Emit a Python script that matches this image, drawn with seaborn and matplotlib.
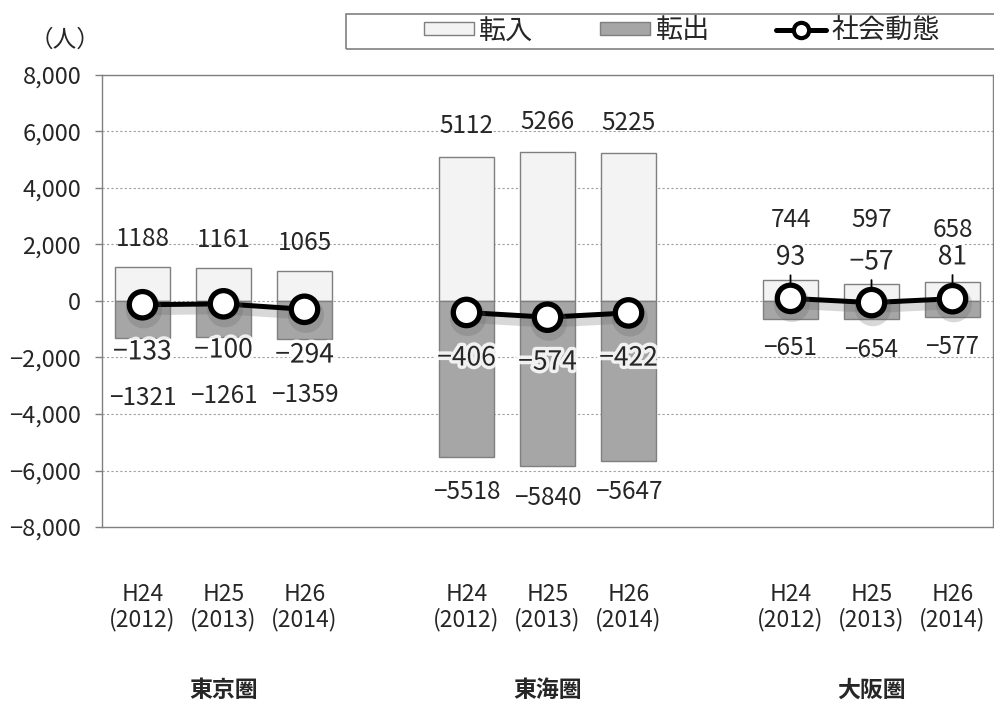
import numpy as np
import pandas as pd
import matplotlib.pyplot as plt
import matplotlib.patheffects as pe
from matplotlib.patches import Rectangle
from matplotlib.lines import Line2D
from matplotlib.ticker import FuncFormatter
import seaborn as sns

# data
regions = ["東京圏", "東海圏", "大阪圏"]
years = ["H24\n(2012)", "H25\n(2013)", "H26\n(2014)"]
inflow = [1188, 1161, 1065, 5112, 5266, 5225, 744, 597, 658]
outflow = [-1321, -1261, -1359, -5518, -5840, -5647, -651, -654, -577]
net = [-133, -100, -294, -406, -574, -422, 93, -57, 81]

# label offsets (data units) so the numbers sit where the original has them
in_off = [1000, 1000, 1000, 1080, 1080, 1080, 2120, 2270, 1855]
out_off = [-2110, -2100, -1970, -1240, -1130, -1110, -1010, -1080, -1050]
net_off = [-1670, -1635, -1620, -1610, -1590, -1600, 1460, 1440, 1480]

sns.set_style("white")
plt.rcParams["font.family"] = ["Noto Sans CJK JP", "DejaVu Sans"]

pos = [g * 4 + i for g in range(len(regions)) for i in range(len(years))]
df = pd.DataFrame({"pos": pos, "inflow": inflow, "outflow": outflow, "net": net,
                   "region": np.repeat(regions, len(years))})

fig = plt.figure(figsize=(9.95, 7.04), dpi=100)
ax = fig.add_axes([0.1025, 0.2514, 0.8955, 0.6421])

sns.barplot(data=df, x="pos", y="inflow", native_scale=True, width=0.68, color="#f3f3f3",
            edgecolor="#7f7f7f", linewidth=1, saturation=1, ax=ax, zorder=2)
sns.barplot(data=df, x="pos", y="outflow", native_scale=True, width=0.68, color="#a6a6a6",
            edgecolor="#7f7f7f", linewidth=1, saturation=1, ax=ax, zorder=2)

shadow = [pe.SimpleLineShadow(offset=(1, -4), shadow_color="#666666", alpha=0.25, linewidth=7), pe.Normal()]
for r in regions:
    sub = df[df["region"] == r]
    sns.lineplot(data=sub, x="pos", y="net", ax=ax, color="black", lw=3.6, marker="o",
                 ms=19, mfc="white", mec="black", mew=3.8, zorder=5, path_effects=shadow)


def fmt(v):
    return f"{v}".replace("-", "−")


glow = [pe.withStroke(linewidth=5, foreground="white", alpha=0.85)]
for i, p in enumerate(pos):
    ax.text(p, inflow[i] + in_off[i], fmt(inflow[i]), ha="center", va="center", fontsize=17.5)
    ax.text(p, outflow[i] + out_off[i], fmt(outflow[i]), ha="center", va="center", fontsize=17.5)
    if net_off[i] > 0:
        ax.annotate(fmt(net[i]), xy=(p, net[i]), xytext=(p, net[i] + net_off[i]),
                    ha="center", va="center", fontsize=19, zorder=4, path_effects=glow,
                    arrowprops=dict(arrowstyle="-", color="black", lw=1.3, shrinkA=1, shrinkB=0))
    else:
        ax.text(p, net[i] + net_off[i], fmt(net[i]), ha="center", va="center", fontsize=19,
                zorder=6, path_effects=glow)

ax.set_xlim(-0.5, 10.5)
ax.set_ylim(-8000, 8000)
ax.set_yticks(range(-8000, 8001, 2000))
ax.yaxis.set_major_formatter(FuncFormatter(lambda v, _: f"{v:,.0f}".replace("-", "−")))
ax.set_xticks(pos)
ax.set_xticklabels(years * len(regions), linespacing=1.1)
ax.tick_params(axis="x", length=0, pad=40, labelsize=16.5)
ax.tick_params(axis="y", length=5, color="#808080", width=1, labelsize=17, pad=10, left=True)
ax.set_xlabel("")
ax.set_ylabel("")
ax.grid(axis="y", color="#a0a0a0", linestyle=(0, (2, 2)), lw=0.8, zorder=0)
ax.set_axisbelow(True)
for s in ax.spines.values():
    s.set_color("#808080")
    s.set_linewidth(1)

for g, r in enumerate(regions):
    ax.text(g * 4 + 1, -0.361, r, transform=ax.get_xaxis_transform(), ha="center", va="center",
            fontsize=16.5, fontweight="bold")

fig.text(0.065, 0.943, "（人）", ha="center", va="center", fontsize=17)

# legend box across the top
fig.patches.append(Rectangle((346 / 995, 1 - 49 / 704), 660 / 995, 35 / 704, transform=fig.transFigure,
                             fill=False, edgecolor="#808080", lw=1.2, clip_on=False))
handles = [
    Rectangle((0, 0), 1, 1, facecolor="#f3f3f3", edgecolor="#7f7f7f", lw=1),
    Rectangle((0, 0), 1, 1, facecolor="#a6a6a6", edgecolor="#7f7f7f", lw=1),
    Line2D([], [], color="black", lw=3.6, marker="o", ms=11, mfc="white", mec="black", mew=3),
]
fig.legend(handles, ["転入", "転出", "社会動態"], loc="center", bbox_to_anchor=(682 / 995, 1 - 31 / 704),
           ncol=3, frameon=False, fontsize=19.5, handlelength=1.85, handleheight=0.35,
           columnspacing=2.45, handletextpad=0.2, borderpad=0)

fig.savefig("out.png", dpi=100)
